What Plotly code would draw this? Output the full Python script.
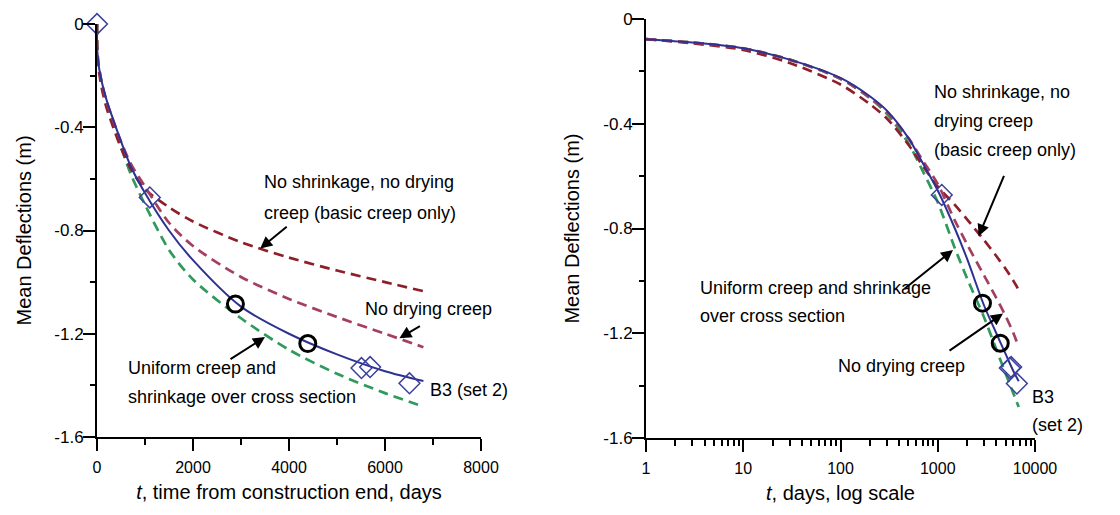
import plotly.graph_objects as go

# ---- data -------------------------------------------------------------
t_days = [0, 1, 3, 10, 30, 100, 200, 300, 500, 700, 1000, 1500, 2000, 3000, 4000, 5000, 6000, 6800]
b3_set2 = [0, -0.077, -0.090, -0.112, -0.155, -0.225, -0.295, -0.350, -0.455, -0.550, -0.655, -0.800, -0.915, -1.095, -1.200, -1.280, -1.345, -1.383]
uniform = [0, -0.077, -0.090, -0.112, -0.155, -0.228, -0.302, -0.362, -0.475, -0.580, -0.700, -0.875, -0.990, -1.140, -1.262, -1.355, -1.430, -1.482]
no_drying = [0, -0.077, -0.090, -0.112, -0.155, -0.228, -0.300, -0.355, -0.455, -0.540, -0.630, -0.770, -0.860, -0.980, -1.065, -1.135, -1.200, -1.252]
basic_only = [0, -0.077, -0.093, -0.118, -0.168, -0.250, -0.325, -0.380, -0.480, -0.560, -0.640, -0.710, -0.765, -0.845, -0.905, -0.955, -1.000, -1.035]

meas_diamond_t = [0, 1100, 5510, 5690, 6510]
meas_diamond_y = [0, -0.672, -1.333, -1.329, -1.392]
meas_circle_t = [2884, 4391]
meas_circle_y = [-1.085, -1.238]

lin_ticks = [0, 2000, 4000, 6000, 8000]
log_ticks = [1, 10, 100, 1000, 10000]
log_tick_text = ["1", "10", "100", "1000", "10000"]
y_ticks = [0, -0.4, -0.8, -1.2, -1.6]
y_tick_text = ["0", "-0.4", "-0.8", "-1.2", "-1.6"]

# ---- styles -----------------------------------------------------------
FONT = "Liberation Sans, Arial, sans-serif"
C_BLUE = "#2e3192"
C_GREEN = "#2f9a5c"
C_DARK = "#8e1f2a"
C_MED = "#a4405e"
C_DIAM = "#3b3f9e"
DASH = "10px,6px"

W, H = 1120, 515
OFF = 8  # page offset compensation (px)

def px_x(p):
    return (p - OFF) / W

def px_y(p):
    return 1 - (p - OFF) / H

fig = go.Figure()

curves = [
    (uniform, C_GREEN, DASH, 2.7, "Uniform creep and shrinkage"),
    (basic_only, C_DARK, DASH, 2.7, "Basic creep only"),
    (no_drying, C_MED, DASH, 2.7, "No drying creep"),
    (b3_set2, C_BLUE, "solid", 2.0, "B3 (set 2)"),
]

for xa, ya, start in (("x", "y", 0), ("x2", "y2", 1)):
    for vals, col, dash, w, name in curves:
        fig.add_trace(go.Scatter(
            x=t_days[start:], y=vals[start:], mode="lines", name=name,
            line=dict(color=col, dash=dash, width=w, shape="spline", smoothing=0.8),
            xaxis=xa, yaxis=ya, showlegend=False, cliponaxis=False))
    ds = 0 if start == 0 else 1
    fig.add_trace(go.Scatter(
        x=meas_diamond_t[ds:], y=meas_diamond_y[ds:], mode="markers",
        marker=dict(symbol="diamond-open", size=16, color=C_DIAM, line=dict(width=1.5, color=C_DIAM)),
        xaxis=xa, yaxis=ya, showlegend=False, cliponaxis=False))
    fig.add_trace(go.Scatter(
        x=meas_circle_t, y=meas_circle_y, mode="markers",
        marker=dict(symbol="circle-open", size=16, color="black", line=dict(width=3, color="black")),
        xaxis=xa, yaxis=ya, showlegend=False, cliponaxis=False))

axis_common = dict(
    showline=True, linecolor="black", linewidth=2, mirror=False,
    ticks="outside", ticklen=12, tickwidth=2, tickcolor="black",
    showgrid=False, zeroline=False, automargin=False,
)

minor_lin = dict(ticks="outside", ticklen=6, tickwidth=1.8, tickcolor="black", showgrid=False)

log_minor_vals = []
for dec in [1, 10, 100, 1000]:
    for k in range(2, 10):
        log_minor_vals.append(k * dec)

TF = dict(family=FONT, size=20, color="black")
XTF = dict(family=FONT, size=16, color="black")
YTF = dict(family=FONT, size=17, color="black")

fig.update_layout(
    width=W, height=H,
    margin=dict(l=0, r=0, t=0, b=0, autoexpand=False),
    paper_bgcolor="white", plot_bgcolor="white",
    font=dict(family=FONT, size=16, color="black"),
    xaxis=dict(axis_common, domain=[px_x(97), px_x(481)], range=[0, 8000],
               tickvals=lin_ticks, minor=dict(minor_lin, dtick=1000),
               anchor="y", tickfont=XTF, ticklabelstandoff=3,
               title=dict(text="<i>t</i>, time from construction end, days", font=TF, standoff=10)),
    yaxis=dict(axis_common, domain=[px_y(437), px_y(24)], range=[-1.6, 0],
               tickvals=y_ticks, ticktext=y_tick_text, minor=dict(minor_lin, ticklen=5, dtick=0.2),
               anchor="x", tickfont=YTF, ticklabelstandoff=-4,
               title=dict(text="Mean Deflections (m)", font=TF, standoff=17)),
    xaxis2=dict(axis_common, type="log", domain=[px_x(646), px_x(1035)], range=[0, 4],
                tickvals=log_ticks, ticktext=log_tick_text,
                minor=dict(minor_lin, tickvals=log_minor_vals),
                anchor="y2", tickfont=XTF, ticklabelstandoff=3,
                title=dict(text="<i>t</i>, days, log scale", font=TF, standoff=10)),
    yaxis2=dict(axis_common, domain=[px_y(438), px_y(19)], range=[-1.6, 0],
                tickvals=y_ticks, ticktext=y_tick_text, minor=dict(minor_lin, ticklen=5, dtick=0.2),
                anchor="x2", tickfont=YTF, ticklabelstandoff=-4,
                title=dict(text="Mean Deflections (m)", font=TF, standoff=18)),
)

AF = dict(family=FONT, size=18, color="black")

def label(text, xp, yp):
    fig.add_annotation(text=text, x=px_x(xp), y=px_y(yp), xref="paper", yref="paper",
                       xanchor="left", yanchor="middle", align="left",
                       showarrow=False, font=AF)

def arrow(xd, yd, axp, ayp, xref, yref):
    fig.add_annotation(text="", x=xd, y=yd, xref=xref, yref=yref,
                       ax=axp, ay=ayp, showarrow=True, arrowhead=2,
                       arrowsize=1.2, arrowwidth=2, arrowcolor="black")

# left panel labels
label("No shrinkage, no drying", 262, 182)
label("creep (basic creep only)", 262, 213)
arrow(3400, -0.87, 28, -23, "x", "y")
label("No drying creep", 363, 309)
arrow(6300, -1.217, 22, -13, "x", "y")
label("Uniform creep and", 126, 368)
label("shrinkage over cross section", 126, 397)
arrow(3500, -1.213, -36, 23, "x", "y")
label("B3 (set 2)", 428, 390)

# right panel labels
label("No shrinkage, no", 932, 92)
label("drying creep", 932, 121)
label("(basic creep only)", 932, 150)
arrow(3.42, -0.83, 26, -62, "x2", "y2")
label("Uniform creep and shrinkage", 698, 288)
label("over cross section", 698, 316)
arrow(3.157, -0.882, -50, 40, "x2", "y2")
label("No drying creep", 836, 366)
arrow(3.671, -1.125, -55, 38, "x2", "y2")
label("B3", 1030, 397)
label("(set 2)", 1030, 425)

fig.write_html("out.html")
